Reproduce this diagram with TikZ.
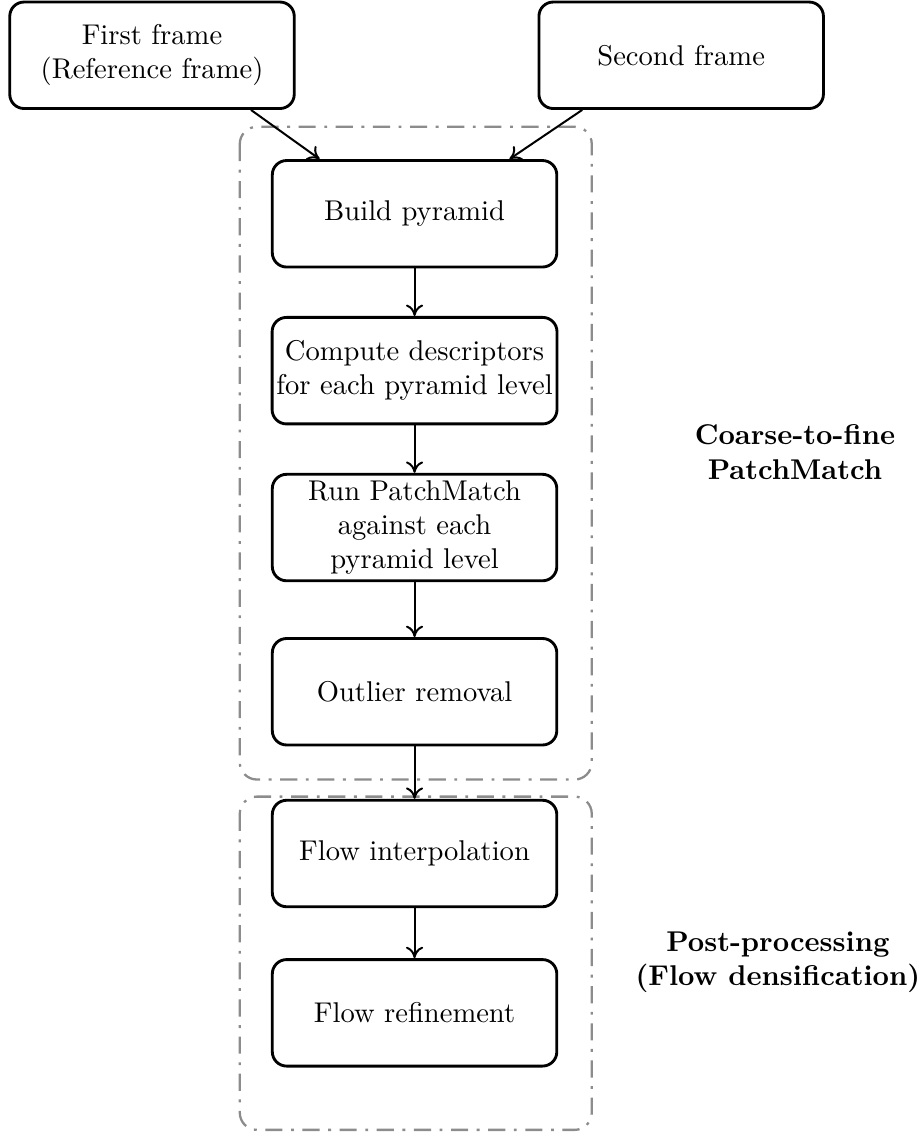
\documentclass[tikz,border=0pt]{standalone}
\usetikzlibrary{positioning,arrows.meta}
\definecolor{GroupGray}{HTML}{8C8C8C}

\begin{document}
\begin{tikzpicture}[
      block/.style={draw=black,rounded corners=5pt,align=center,line width=1pt,
                    minimum width=3.5cm,minimum height=1.31cm,inner sep=1.5pt},
      flow/.style={-{To[length=4pt,width=6pt]},line width=0.7pt},
      group/.style={draw=GroupGray,dash pattern=on 6pt off 3pt on 1pt off 3pt,
                    line width=0.8pt,rounded corners=6pt},
      grouplabel/.style={align=center,font=\bfseries}]
    \useasboundingbox (0,0) rectangle (11.30,-14.0);
    % stage boxes
    \draw[group] (2.95,-1.56) rectangle (7.28,-9.59);
    \draw[group] (2.95,-9.80) rectangle (7.28,-13.90);
    \node[block] (first)   at (1.87,-0.68)  {First frame\\(Reference frame)};
    \node[block] (second)  at (8.38,-0.68)  {Second frame};
    \node[block] (build)   at (5.10,-2.63)  {Build pyramid};
    \node[block] (desc)    at (5.10,-4.56)  {Compute descriptors\\for each pyramid level};
    \node[block] (run)     at (5.10,-6.49)  {Run PatchMatch\\against each\\pyramid level};
    \node[block] (outlier) at (5.10,-8.51)  {Outlier removal};
    \node[block] (interp)  at (5.10,-10.50) {Flow interpolation};
    \node[block] (refine)  at (5.10,-12.46) {Flow refinement};
    \node[grouplabel] (coarse) at (9.78,-5.56)  {Coarse-to-fine\\PatchMatch};
    \node[grouplabel] (post)   at (9.57,-11.84) {Post-processing\\(Flow densification)};
    \draw[flow] ([xshift=-0.55cm]first.south east) -- ([xshift=0.6cm]build.north west);
    \draw[flow] ([xshift=0.55cm]second.south west) -- ([xshift=-0.6cm]build.north east);
    \draw[flow] (build) -- (desc); \draw[flow] (desc) -- (run);
    \draw[flow] (run) -- (outlier); \draw[flow] (outlier) -- (interp);
    \draw[flow] (interp) -- (refine);
  \end{tikzpicture}
\end{document}
